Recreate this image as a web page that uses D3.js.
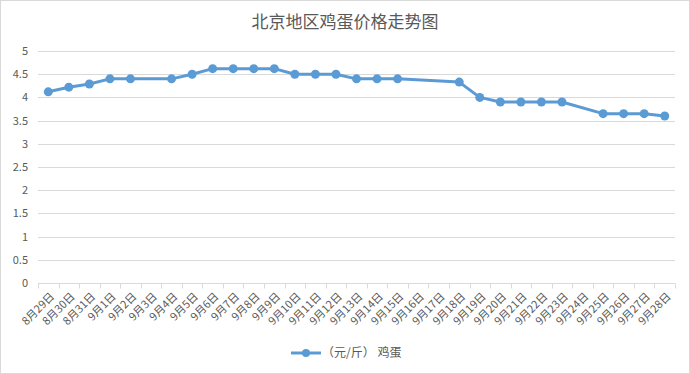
<!DOCTYPE html>
<html>
<head>
<meta charset="utf-8">
<script src="https://cdn.jsdelivr.net/npm/d3@7"></script>
<style>
  body { margin: 0; background: #fff; }
  svg text { font-family: "Noto Sans CJK SC", "Noto Sans", sans-serif; fill: #595959; }
</style>
</head>
<body>
<svg id="chart" width="690" height="374"></svg>
<script>
const svg = d3.select("#chart");
const width = +svg.attr("width");
const height = +svg.attr("height");

// categories on the x axis (one per day)
const dates = ["8月29日","8月30日","8月31日","9月1日","9月2日","9月3日","9月4日","9月5日",
  "9月6日","9月7日","9月8日","9月9日","9月10日","9月11日","9月12日","9月13日","9月14日",
  "9月15日","9月16日","9月17日","9月18日","9月19日","9月20日","9月21日","9月22日",
  "9月23日","9月24日","9月25日","9月26日","9月27日","9月28日"];
// egg price, null = no quote that day
const prices = [4.12, 4.22, 4.29, 4.4, 4.4, null, 4.4, 4.5, 4.62, 4.62, 4.62, 4.62,
  4.5, 4.5, 4.5, 4.4, 4.4, 4.4, null, null, 4.33, 4.0, 3.9, 3.9, 3.9, 3.9, null,
  3.65, 3.65, 3.65, 3.6];
const yTicks = [0, 0.5, 1, 1.5, 2, 2.5, 3, 3.5, 4, 4.5, 5];

const title = "北京地区鸡蛋价格走势图";
const seriesName = "（元/斤） 鸡蛋";
const color = "#5B9BD5";

const margin = {top: 51, right: 15, bottom: 91, left: 38};
const plotW = width - margin.left - margin.right;
const plotH = height - margin.top - margin.bottom;

// outer frame
svg.append("rect")
  .attr("x", 0.5).attr("y", 0.5)
  .attr("width", width - 1).attr("height", height - 1)
  .attr("fill", "#fff").attr("stroke", "#d9d9d9");

svg.append("text")
  .attr("x", width / 2).attr("y", 28)
  .attr("text-anchor", "middle")
  .style("font-size", "17px")
  .text(title);

const g = svg.append("g").attr("transform", `translate(${margin.left},${margin.top})`);

const x = d3.scaleBand().domain(dates).range([0, plotW]);
const y = d3.scaleLinear().domain([0, 5]).range([plotH, 0]);

// gridlines
g.selectAll(".grid")
  .data(yTicks.filter(d => d > 0))
  .enter().append("line")
  .attr("x1", 0).attr("x2", plotW)
  .attr("y1", d => Math.round(y(d)) + 0.5).attr("y2", d => Math.round(y(d)) + 0.5)
  .attr("stroke", "#d9d9d9");

// y axis labels
const yAxis = g.append("g")
  .call(d3.axisLeft(y).tickValues(yTicks).tickSize(0).tickPadding(10).tickFormat(d3.format("")));
yAxis.select(".domain").remove();
yAxis.selectAll("text").style("font-size", "11px").attr("fill", "#595959");

// x axis with ticks on band boundaries
const xAxisG = g.append("g").attr("transform", `translate(0,${Math.round(plotH) + 0.5})`);
xAxisG.append("line").attr("x1", 0).attr("x2", plotW).attr("stroke", "#d9d9d9");
xAxisG.selectAll(".tick")
  .data(dates.concat(["end"]))
  .enter().append("line")
  .attr("x1", (d, i) => Math.round(i * x.step()) + 0.5)
  .attr("x2", (d, i) => Math.round(i * x.step()) + 0.5)
  .attr("y1", 0).attr("y2", 5)
  .attr("stroke", "#d9d9d9");
xAxisG.selectAll(".lbl")
  .data(dates)
  .enter().append("text")
  .attr("transform", d => `translate(${x(d) + x.bandwidth() / 2 + 4},${11}) rotate(-45)`)
  .attr("text-anchor", "end")
  .attr("dy", "0.35em")
  .style("font-size", "11px")
  .text(d => d);

// series points (skip gaps by connecting existing points)
const pts = dates.map((d, i) => ({date: d, v: prices[i]})).filter(p => p.v !== null);
const line = d3.line()
  .x(p => x(p.date) + x.bandwidth() / 2)
  .y(p => y(p.v));

g.append("path")
  .datum(pts)
  .attr("d", line)
  .attr("fill", "none")
  .attr("stroke", color)
  .attr("stroke-width", 3)
  .attr("stroke-linejoin", "round");

g.selectAll(".dot")
  .data(pts)
  .enter().append("circle")
  .attr("cx", p => x(p.date) + x.bandwidth() / 2)
  .attr("cy", p => y(p.v))
  .attr("r", 4.5)
  .attr("fill", color);

// legend
const lg = svg.append("g").attr("transform", `translate(291,353)`);
lg.append("line").attr("x1", 0).attr("x2", 30).attr("stroke", color).attr("stroke-width", 3);
lg.append("circle").attr("cx", 15).attr("r", 4).attr("fill", color);
lg.append("text").attr("x", 31).attr("dy", "0.35em").style("font-size", "12px").text(seriesName);
</script>
</body>
</html>
